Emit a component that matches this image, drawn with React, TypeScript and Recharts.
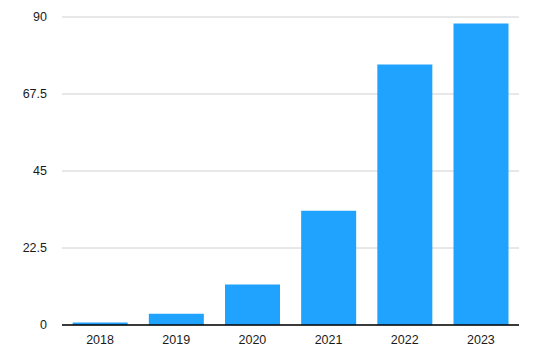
import { BarChart, Bar, XAxis, YAxis, CartesianGrid } from "recharts";

const years = ["2018", "2019", "2020", "2021", "2022", "2023"];
const values = [0.7, 3.3, 11.8, 33.4, 76.1, 88.1];
const yTicks = [0, 22.5, 45, 67.5, 90];

const data = years.map((year, i) => ({ year, value: values[i] }));

const font = { fontSize: 12.5, fill: "#1a1a1a", fontFamily: "'Liberation Sans', Arial, sans-serif" };

export default function App() {
  return (
    <div style={{ position: "absolute", left: 0, top: 0 }}>
      <BarChart
        width={533}
        height={355}
        data={data}
        margin={{ top: 17, right: 14, left: 0, bottom: 0 }}
        barCategoryGap="14%"
      >
        <CartesianGrid vertical={false} stroke="#d0d0d0" />
        <XAxis
          dataKey="year"
          height={30}
          tick={font}
          tickLine={false}
          axisLine={{ stroke: "#000", strokeWidth: 1.5 }}
          tickMargin={4}
        />
        <YAxis
          width={62}
          domain={[0, 90]}
          ticks={yTicks}
          tick={font}
          tickLine={false}
          axisLine={false}
          tickSize={0}
          tickMargin={15}
        />
        <Bar dataKey="value" fill="#20A2FF" isAnimationActive={false} />
      </BarChart>
    </div>
  );
}
